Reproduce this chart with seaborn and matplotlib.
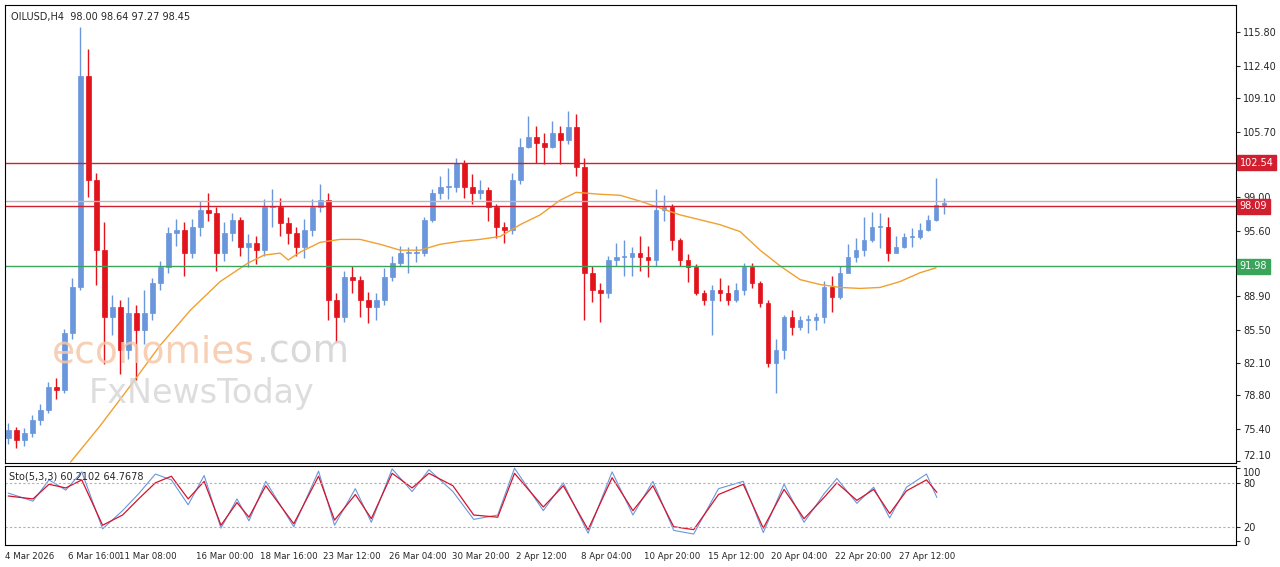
import numpy as np
import pandas as pd
import matplotlib
matplotlib.use("Agg")
import matplotlib.pyplot as plt
import seaborn as sns

# H4 closes / highs / lows (one bar every ~8 px)
closes = [75.25, 74.23, 74.94, 76.27, 77.29, 79.64, 79.33, 85.16, 89.86, 111.41,
          100.78, 93.63, 86.79, 87.81, 83.42, 87.20, 85.46, 87.20, 90.26, 91.90,
          95.37, 95.68, 93.33, 95.98, 97.72, 97.41, 93.33, 95.37, 96.70, 93.94,
          94.35, 93.63, 98.03, 98.03, 96.39, 95.37, 93.94, 95.68, 98.03, 98.74,
          88.53, 86.79, 90.88, 90.57, 88.53, 87.81, 88.53, 90.88, 92.31, 93.33,
          93.33, 93.33, 96.70, 99.46, 100.07, 100.07, 102.52, 100.07, 99.46, 99.76,
          98.03, 95.98, 95.68, 100.78, 104.16, 105.18, 104.56, 104.16, 105.59, 104.87,
          106.20, 102.11, 91.28, 89.55, 89.24, 92.61, 92.92, 92.92, 93.33, 92.92,
          92.61, 97.72, 98.03, 94.66, 92.61, 91.90, 89.24, 88.53, 89.55, 89.24,
          88.53, 89.55, 91.90, 90.26, 88.22, 82.09, 83.42, 86.79, 85.77, 86.48,
          86.48, 86.79, 89.86, 88.83, 91.28, 92.92, 93.63, 94.66, 95.98, 95.98,
          93.33, 93.94, 94.96, 94.96, 95.68, 96.70, 98.23, 98.45]
highs = [76.0, 75.6, 75.5, 76.8, 77.9, 80.2, 80.6, 85.6, 90.8, 116.4,
         114.1, 101.5, 96.5, 89.0, 88.5, 88.8, 88.0, 89.5, 90.8, 92.5,
         96.0, 96.8, 96.5, 96.8, 98.6, 99.4, 98.0, 96.5, 97.4, 97.0,
         95.3, 95.0, 98.8, 99.8, 98.9, 97.0, 96.0, 96.8, 98.8, 100.3,
         99.4, 89.2, 91.5, 92.0, 91.0, 89.3, 89.2, 91.8, 93.0, 94.0,
         93.9, 94.0, 97.0, 99.8, 101.2, 102.0, 103.0, 102.8, 101.4, 100.8,
         100.0, 98.3, 96.5, 101.5, 105.0, 107.3, 106.3, 105.5, 106.8, 106.3,
         107.8, 107.5, 103.0, 92.0, 90.3, 93.0, 94.3, 94.6, 93.9, 95.0,
         94.0, 99.8, 99.2, 98.3, 94.8, 93.2, 92.2, 89.5, 90.0, 90.8,
         90.0, 90.3, 92.3, 92.3, 90.5, 88.5, 84.5, 87.0, 87.5, 86.9,
         87.0, 87.2, 90.5, 91.0, 92.0, 94.2, 94.8, 97.0, 97.5, 97.4,
         97.0, 95.0, 95.4, 95.9, 96.4, 97.2, 101.0, 98.9]
lows = [73.8, 73.4, 73.6, 74.6, 75.8, 77.0, 78.4, 79.0, 84.5, 89.5,
        99.0, 90.0, 82.0, 85.0, 81.0, 82.5, 80.4, 84.0, 86.5, 89.5,
        91.3, 94.0, 91.0, 92.8, 95.0, 96.6, 91.5, 92.5, 94.5, 93.0,
        91.9, 92.2, 93.0, 96.0, 95.0, 94.2, 93.0, 92.8, 95.0, 97.5,
        86.5, 84.2, 86.3, 89.2, 86.8, 86.2, 86.5, 88.0, 90.5, 92.0,
        91.3, 92.4, 93.0, 96.5, 98.8, 98.8, 99.5, 98.9, 98.3, 98.8,
        96.6, 94.8, 94.3, 95.2, 100.3, 104.0, 102.5, 102.4, 104.0, 102.4,
        104.4, 101.2, 86.5, 88.3, 86.3, 88.7, 92.0, 91.0, 91.0, 91.5,
        90.9, 92.0, 96.6, 93.6, 92.0, 90.4, 89.0, 88.0, 85.0, 88.4,
        88.0, 88.3, 89.0, 89.7, 87.8, 81.7, 79.0, 82.5, 85.0, 85.5,
        85.2, 85.5, 86.2, 87.3, 88.6, 91.5, 92.4, 93.0, 94.4, 93.8,
        92.5, 93.4, 93.8, 93.9, 94.7, 95.6, 96.6, 97.3]
first_open = 74.5

# moving average (orange), bar index -> value
ma_idx = [7.8, 11.5, 15.3, 19, 22.8, 26.5, 30, 32, 34, 35, 36.5, 39, 41.5, 44, 46.5, 49,
          51.5, 54, 56.5, 59, 61.5, 64, 66.5, 69, 71, 74, 76.5, 79, 81.5, 84, 86.5, 89,
          91.5, 94, 96.5, 99, 101.5, 104, 106.5, 109, 111.5, 114, 116]
ma_vals = [72.0, 75.7, 79.8, 83.9, 87.5, 90.4, 92.3, 93.1, 93.3, 92.6, 93.4, 94.4, 94.7,
           94.7, 94.2, 93.6, 93.6, 94.2, 94.5, 94.7, 95.0, 96.2, 97.2, 98.7, 99.5, 99.3,
           99.2, 98.6, 97.9, 97.2, 96.7, 96.2, 95.5, 93.6, 92.0, 90.6, 90.1, 89.8, 89.7,
           89.8, 90.4, 91.3, 91.8]

# stochastic (5,3,3)
sto_idx = [0.0, 3.1, 5.1, 7.2, 9.2, 11.8, 14.3, 16.3, 18.4, 20.4, 22.5, 24.5, 26.6, 28.6,
           30.1, 32.2, 35.7, 38.8, 40.8, 43.4, 45.4, 48, 50.5, 52.6, 55.6, 58.2, 61.2, 63.3,
           66.9, 69.4, 72.5, 75.5, 78.1, 80.6, 83.2, 85.7, 88.8, 91.9, 94.4, 97, 99.5, 102,
           103.6, 106.1, 108.2, 110.2, 112.3, 114.8, 116.1]
sto_d = [62, 58, 78, 73, 84, 22, 36, 58, 80, 89, 58, 82, 22, 53, 33, 76, 24, 89, 29, 64,
         31, 93, 73, 93, 76, 36, 33, 93, 47, 76, 16, 87, 42, 76, 20, 16, 64, 78, 18, 71,
         31, 60, 80, 56, 71, 38, 69, 84, 67]
sto_k = [66, 55, 84, 70, 95, 17, 42, 65, 92, 84, 50, 90, 18, 58, 28, 82, 20, 96, 22, 72,
         26, 99, 68, 98, 68, 30, 36, 100, 42, 80, 11, 95, 36, 82, 15, 10, 72, 82, 12, 78,
         26, 65, 86, 52, 74, 32, 74, 92, 60]

levels = {102.54: "#d11f2f", 98.09: "#d11f2f", 91.98: "#3aa55a"}
price_ticks = [115.80, 112.40, 109.10, 105.70, 99.00, 95.60, 88.90,
               85.50, 82.10, 78.80, 75.40, 72.10]
date_labels = ["4 Mar 2026", "6 Mar 16:00", "11 Mar 08:00", "16 Mar 00:00", "18 Mar 16:00",
               "23 Mar 12:00", "26 Mar 04:00", "30 Mar 20:00", "2 Apr 12:00", "8 Apr 04:00",
               "10 Apr 20:00", "15 Apr 12:00", "20 Apr 04:00", "22 Apr 20:00", "27 Apr 12:00"]
date_idx = [-0.4, 7.5, 13.8, 23.5, 31.5, 39.4, 47.6, 55.5, 63.5, 71.6, 79.5, 87.5, 95.4, 103.4, 111.4]

sns.set_style("white")
plt.rcParams["font.family"] = ["DejaVu Sans"]

n = len(closes)
opens = [first_open] + closes[:-1]
df = pd.DataFrame({"i": np.arange(n), "o": opens, "h": highs, "l": lows, "c": closes})
up = df[df.c >= df.o]
dn = df[df.c < df.o]
UPC, DNC = "#6a96dc", "#e3131b"

W, H = 1280, 567
fig = plt.figure(figsize=(12.8, 5.67), dpi=100)
x0, x1 = 5 / W, 1236 / W
ax = fig.add_axes([x0, 1 - 463 / H, x1 - x0, (463 - 5) / H])
axs = fig.add_axes([x0, 1 - 545 / H, x1 - x0, (545 - 466) / H])
xlim = (-0.4, (1236 - 8) / 8)

for d, col in ((up, UPC), (dn, DNC)):
    ax.vlines(d.i, d.l, d.h, color=col, lw=1)
    ax.bar(d.i, (d.c - d.o).abs().clip(lower=0.08), bottom=np.minimum(d.o, d.c),
           width=0.6, color=col, edgecolor=col, lw=0.5)

sns.lineplot(x=ma_idx, y=ma_vals, ax=ax, color="#f0a030", lw=1)
for lvl, col in levels.items():
    ax.axhline(lvl, color=col, lw=1)
    ax.text(1.003, lvl, f"{lvl:.2f}", transform=ax.get_yaxis_transform(), va="center",
            ha="left", fontsize=7, color="white", zorder=5,
            bbox=dict(boxstyle="square,pad=0.25", fc=col, ec=col))
ax.axhline(98.64, color="#c8b0b8", lw=1)

ax.set_xlim(*xlim)
ax.set_ylim(72.1 - 0.2, 115.8 + 2.8)
ax.yaxis.tick_right()
ax.set_yticks(price_ticks)
ax.set_yticklabels([f"{t:.2f}" for t in price_ticks], fontsize=7)
ax.get_yticklabels()[-1].set_va("bottom")
ax.tick_params(axis="y", length=3, pad=2)
ax.set_xticks([])
ax.text(0.005, 0.985, "OILUSD,H4  98.00 98.64 97.27 98.45", transform=ax.transAxes,
        fontsize=7, va="top")
ax.text(0.038, 0.22, "economies", transform=ax.transAxes, fontsize=27, color="#f6c7a8",
        alpha=0.85)
ax.text(0.205, 0.22, ".com", transform=ax.transAxes, fontsize=27, color="#d0d0d0", alpha=0.8)
ax.text(0.068, 0.13, "FxNewsToday", transform=ax.transAxes, fontsize=24, color="#d5d5d5",
        alpha=0.8)

sns.lineplot(x=sto_idx, y=sto_k, ax=axs, color="#6a96dc", lw=0.8)
sns.lineplot(x=sto_idx, y=sto_d, ax=axs, color="#d4132a", lw=0.9)
for lvl in (80, 20):
    axs.axhline(lvl, color="#b0b0b0", lw=0.8, ls=(0, (2, 2)))
axs.set_xlim(*xlim)
axs.set_ylim(-5, 103)
axs.yaxis.tick_right()
axs.set_yticks([100, 80, 20, 0])
axs.set_yticklabels(["100", "80", "20", "0"], fontsize=7)
axs.get_yticklabels()[0].set_va("top")
axs.tick_params(axis="y", length=3, pad=2)
axs.set_xticks(date_idx)
axs.set_xticklabels(date_labels, fontsize=6.2, ha="left")
axs.tick_params(axis="x", length=3, pad=2)
axs.text(0.003, 0.93, "Sto(5,3,3) 60.2102 64.7678", transform=axs.transAxes, fontsize=7, va="top")

for a in (ax, axs):
    for s in a.spines.values():
        s.set_color("black")
        s.set_linewidth(0.8)

fig.savefig("out.png", dpi=100, facecolor="white")
